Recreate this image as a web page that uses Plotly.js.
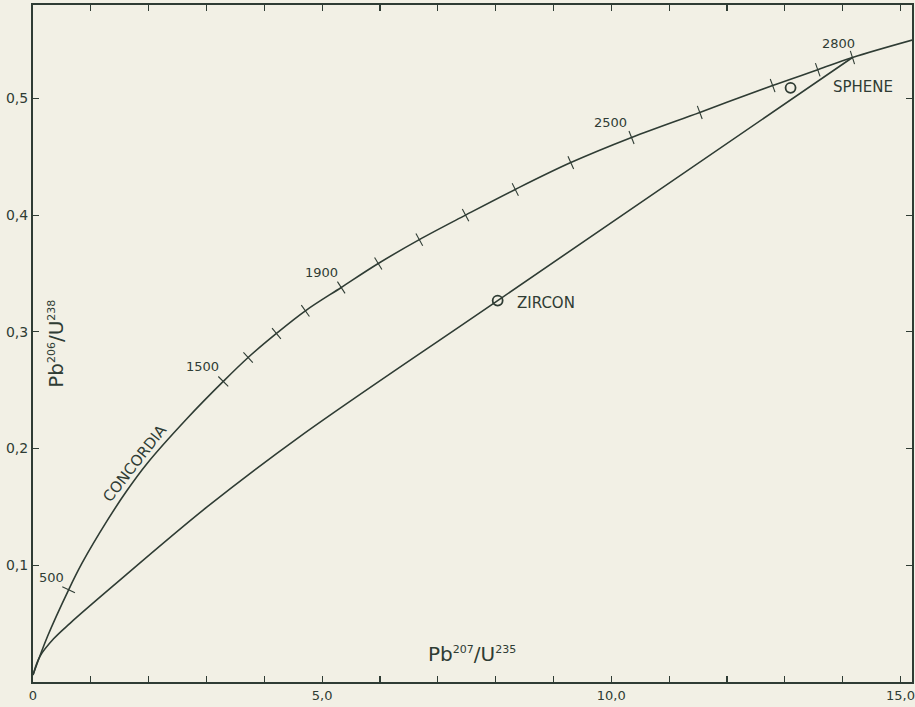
<!DOCTYPE html>
<html><head><meta charset="utf-8">
<script src="https://cdn.plot.ly/plotly-3.0.1.min.js"></script>
<style>html,body{margin:0;padding:0;background:#f2f0e5;} #chart{width:915px;height:707px;}</style>
</head><body><div id="chart"></div>
<script>
// Concordia curve (Pb207/U235, Pb206/U238)
const concordiaX = [0, 0.25, 0.616, 0.85, 1.28, 1.625, 1.97, 2.66, 3.29, 3.72, 4.21, 4.71, 5.33, 5.97, 6.68, 7.48, 8.34, 9.30, 10.35, 11.53, 12.79, 13.57, 14.17, 15.21];
const concordiaY = [0.006, 0.039, 0.079, 0.102, 0.138, 0.164, 0.187, 0.2255, 0.2575, 0.278, 0.2986, 0.318, 0.338, 0.3585, 0.379, 0.400, 0.422, 0.445, 0.4665, 0.488, 0.511, 0.5245, 0.535, 0.550];
// Lower (discordia) curve through the zircon point to 2800 Ma
const chordX = [0, 0.12, 0.356, 0.645, 1.39, 3.01, 4.62, 8.035, 14.17];
const chordY = [0.006, 0.022, 0.037, 0.0505, 0.0825, 0.150, 0.2105, 0.3268, 0.535];
// Age tick marks on concordia (Ma)
const ageTicks = [500, 1500, 1600, 1700, 1800, 1900, 2000, 2100, 2200, 2300, 2400, 2500, 2600, 2700, 2750, 2800];
const ageTickX = [0.616, 3.29, 3.72, 4.21, 4.71, 5.33, 5.97, 6.68, 7.48, 8.34, 9.30, 10.35, 11.53, 12.79, 13.57, 14.17];
const ageTickY = [0.079, 0.2575, 0.278, 0.2986, 0.318, 0.338, 0.3585, 0.379, 0.400, 0.422, 0.445, 0.4665, 0.488, 0.511, 0.5245, 0.535];
const labeledAges = [500, 1500, 1900, 2500, 2800];
// Samples
const sampleNames = ['ZIRCON', 'SPHENE'];
const sampleX = [8.035, 13.10];
const sampleY = [0.3268, 0.509];
// Axis ticks
const xTickVals = [0, 5, 10, 15];
const xTickText = ['0', '5,0', '10,0', '15,0'];
const yTickVals = [0.1, 0.2, 0.3, 0.4, 0.5];
const yTickText = ['0,1', '0,2', '0,3', '0,4', '0,5'];
const xTitleParts = ['Pb', '207', 'U', '235'];
const yTitleParts = ['Pb', '206', 'U', '238'];
const curveLabel = 'CONCORDIA';

const INK = '#2f3c34';
const BG = '#f2f0e5';
const FONT = 'DejaVu Sans';
const W = 915, H = 707, M = {l: 33, r: 3, t: 5, b: 25};
const xRange = [0, 15.2], yRange = [0, 0.58];
const sx = (W - M.l - M.r) / (xRange[1] - xRange[0]);
const sy = (H - M.t - M.b) / (yRange[1] - yRange[0]);

function ratioTitle(p) {
  const s = t => '<sup><span style="font-size:11px">' + t + '</span></sup>';
  return p[0] + s(p[1]) + '/' + p[2] + s(p[3]);
}

function tickAngle(x) {
  let i = concordiaX.findIndex(v => v >= x - 1e-9);
  const a = Math.max(0, i - 1), b = Math.min(concordiaX.length - 1, i + 1);
  const dx = (concordiaX[b] - concordiaX[a]) * sx;
  const dy = (concordiaY[b] - concordiaY[a]) * sy;
  return -Math.atan2(dy, dx) * 180 / Math.PI;
}
const angles = ageTickX.map(tickAngle);

const traces = [
  {x: concordiaX, y: concordiaY, mode: 'lines', line: {color: INK, width: 1.6, shape: 'spline', smoothing: 1}, hoverinfo: 'skip'},
  {x: chordX, y: chordY, mode: 'lines', line: {color: INK, width: 1.6, shape: 'spline', smoothing: 1}, hoverinfo: 'skip'},
  {x: ageTickX, y: ageTickY, mode: 'markers', marker: {symbol: 'line-ns', size: 10, angle: angles, color: INK, line: {color: INK, width: 1.1}}, hoverinfo: 'skip'},
  {x: sampleX, y: sampleY, mode: 'markers', marker: {symbol: 'circle-open', size: 10, color: INK, line: {color: INK, width: 1.8}}, hoverinfo: 'skip'}
];

const labelShift = {500: [-17.6, 12], 1500: [-21, 15], 1900: [-20, 15], 2500: [-21, 15], 2800: [-14, 14]};
const annotations = [];
labeledAges.forEach(age => {
  const i = ageTicks.indexOf(age);
  annotations.push({x: ageTickX[i], y: ageTickY[i], xref: 'x', yref: 'y', text: String(age), showarrow: false,
    xshift: labelShift[age][0], yshift: labelShift[age][1], font: {family: FONT, size: 13, color: INK}});
});
const sampleShift = [[17.7, -2], [40.7, 1]];
sampleNames.forEach((n, i) => {
  annotations.push({x: sampleX[i], y: sampleY[i], xref: 'x', yref: 'y', text: n, showarrow: false,
    xanchor: 'left', xshift: sampleShift[i][0], yshift: sampleShift[i][1], font: {family: FONT, size: 15, color: INK}});
});
annotations.push({x: concordiaX[6], y: concordiaY[6], xref: 'x', yref: 'y', text: curveLabel, showarrow: false,
  textangle: -52, xshift: -12, yshift: 1, font: {family: FONT, size: 15, color: INK}});
annotations.push({x: 0.4994, y: 0.021, xref: 'paper', yref: 'paper', text: ratioTitle(xTitleParts), showarrow: false,
  font: {family: FONT, size: 20, color: INK}});
annotations.push({x: 0.011, y: 0.499, xref: 'paper', yref: 'paper', text: ratioTitle(yTitleParts), showarrow: false, textangle: -90,
  font: {family: FONT, size: 20, color: INK}});

const axisCommon = {
  showline: true, linewidth: 2, linecolor: INK, mirror: 'ticks', showgrid: false, zeroline: false,
  ticks: 'inside', ticklen: 6, tickwidth: 1.2, tickcolor: INK, tickmode: 'array', fixedrange: true
};
const layout = {
  width: W, height: H, margin: M, paper_bgcolor: BG, plot_bgcolor: BG, showlegend: false,
  xaxis: Object.assign({}, axisCommon, {range: xRange, tickvals: xTickVals, ticktext: xTickText,
    tickfont: {family: FONT, size: 13, color: INK},
    minor: {tickmode: 'linear', tick0: 0, dtick: 1, ticks: 'inside', ticklen: 6, tickwidth: 1.2, tickcolor: INK, showgrid: false}}),
  yaxis: Object.assign({}, axisCommon, {range: yRange, tickvals: yTickVals, ticktext: yTickText,
    tickfont: {family: FONT, size: 14, color: INK}}),
  annotations: annotations
};
Plotly.newPlot('chart', traces, layout, {displayModeBar: false, staticPlot: true});
</script></body></html>
